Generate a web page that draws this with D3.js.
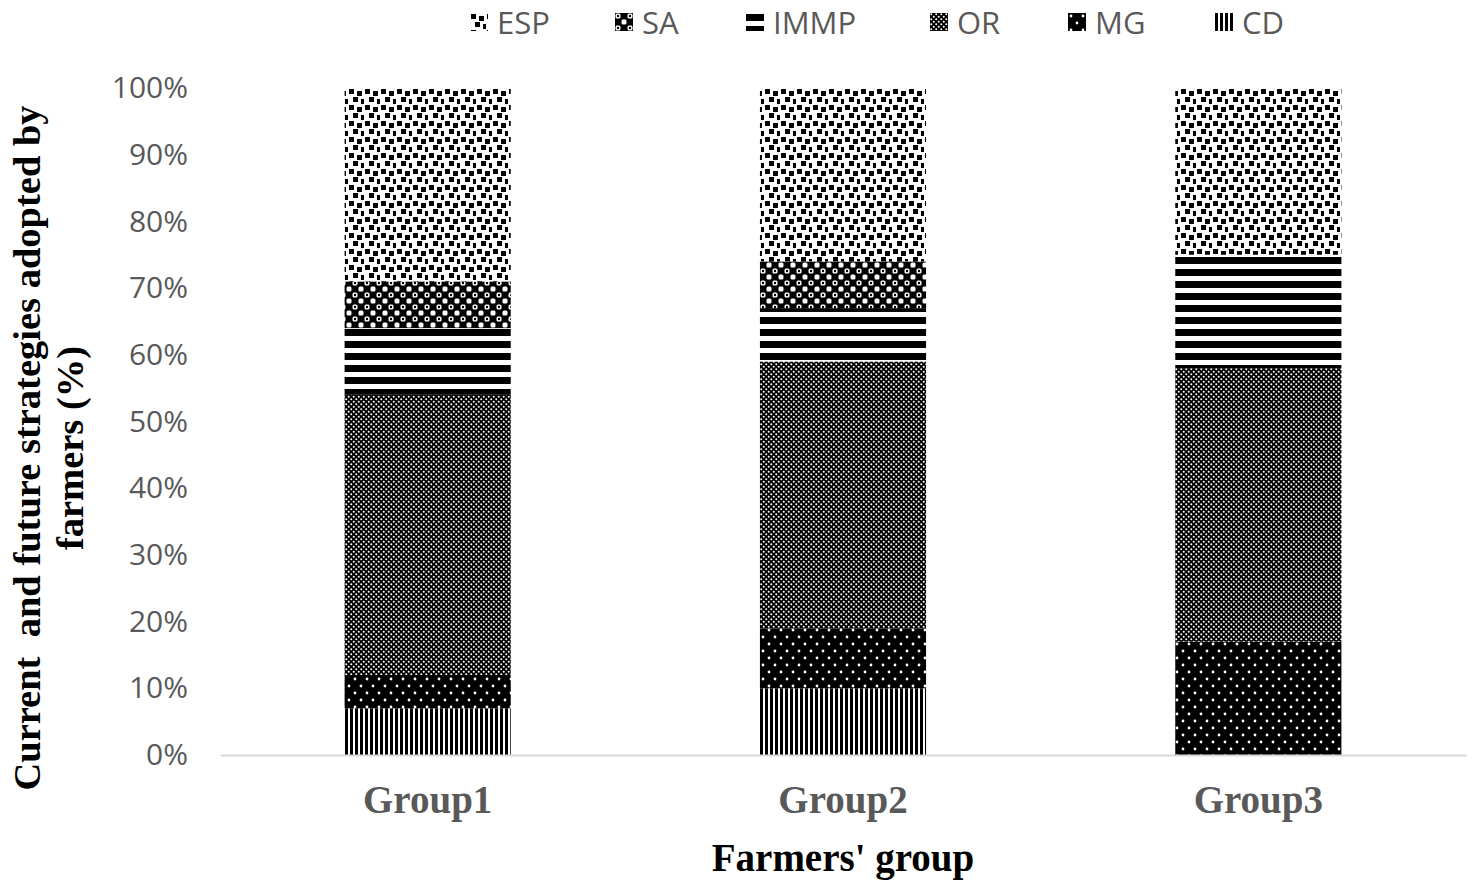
<!DOCTYPE html>
<html>
<head>
<meta charset="utf-8">
<script src="https://cdn.jsdelivr.net/npm/d3@7"></script>
<style>
    body { margin: 0; background: #fff; }
    svg { display: block; }
</style>
</head>
<body>
<svg id="chart" width="1477" height="892"></svg>
<script>
// Values (percent of farmers in each group)
const groups = ["Group1", "Group2", "Group3"];
const seriesNames = ["CD", "MG", "OR", "IMMP", "SA", "ESP"];   // bottom -> top
const legendOrder = ["ESP", "SA", "IMMP", "OR", "MG", "CD"];
const cdValues = [7, 10, 0];
const mgValues = [5, 9, 17];
const orValues = [42, 40, 41];
const immpValues = [10, 8, 17];
const saValues = [7, 7, 0];
const espValues = [29, 26, 25];
const yTicks = [0, 0.1, 0.2, 0.3, 0.4, 0.5, 0.6, 0.7, 0.8, 0.9, 1];

const seriesValues = {
    CD: cdValues, MG: mgValues, OR: orValues,
    IMMP: immpValues, SA: saValues, ESP: espValues
};

const rows = groups.map((g, i) => {
    let row = { group: g };
    seriesNames.forEach(s => row[s] = seriesValues[s][i] / 100);
    return row;
});

const svg = d3.select("#chart");
const margin = { top: 88, left: 220, right: 11, bottom: 137 };
const width = 1477 - margin.left - margin.right;
const height = 892 - margin.top - margin.bottom;

const grey = "#595959";
const serif = "'Liberation Serif', 'Times New Roman', serif";
const sans = "'Open Sans', 'Noto Sans', sans-serif";

// Hatch patterns, roughly like Excel's pattern fills
const defs = svg.append("defs");

function makePattern(id, w, h, draw) {
    let p = defs.append("pattern")
        .attr("id", id)
        .attr("patternUnits", "userSpaceOnUse")
        .attr("width", w)
        .attr("height", h);
    draw(p);
}

makePattern("pat-ESP", 16, 16, p => {
    p.append("rect").attr("width", 16).attr("height", 16).attr("fill", "white");
    [[1, 1], [9, 3], [5, 9], [13, 11]].forEach(d => {
        p.append("rect").attr("x", d[0]).attr("y", d[1])
            .attr("width", 5).attr("height", 5).attr("fill", "black");
    });
});

makePattern("pat-SA", 12, 12, p => {
    p.append("rect").attr("width", 12).attr("height", 12).attr("fill", "black");
    p.append("rect").attr("x", 0.5).attr("y", 0.5).attr("width", 5).attr("height", 5)
        .attr("rx", 1.5).attr("fill", "white");
    p.append("rect").attr("x", 6.5).attr("y", 6.5).attr("width", 5).attr("height", 5)
        .attr("rx", 1.5).attr("fill", "white");
    p.append("circle").attr("cx", 3).attr("cy", 3).attr("r", 1.2).attr("fill", "black");
});

makePattern("pat-IMMP", 12, 12, p => {
    p.append("rect").attr("width", 12).attr("height", 12).attr("fill", "white");
    p.append("rect").attr("y", 1).attr("width", 12).attr("height", 7).attr("fill", "black");
});

makePattern("pat-OR", 5, 5, p => {
    p.append("rect").attr("width", 5).attr("height", 5).attr("fill", "black");
    p.append("circle").attr("cx", 1.25).attr("cy", 1.25).attr("r", 1).attr("fill", "white");
    p.append("circle").attr("cx", 3.75).attr("cy", 3.75).attr("r", 1).attr("fill", "white");
});

makePattern("pat-MG", 12, 14, p => {
    p.append("rect").attr("width", 12).attr("height", 14).attr("fill", "black");
    p.append("circle").attr("cx", 3).attr("cy", 3).attr("r", 1.4).attr("fill", "white");
    p.append("circle").attr("cx", 9).attr("cy", 10).attr("r", 1.4).attr("fill", "white");
});

makePattern("pat-CD", 5, 5, p => {
    p.append("rect").attr("width", 5).attr("height", 5).attr("fill", "white");
    p.append("rect").attr("width", 3).attr("height", 5).attr("fill", "black");
});

const g = svg.append("g")
    .attr("transform", `translate(${margin.left},${margin.top})`);

const x = d3.scaleBand()
    .domain(groups)
    .range([0, width])
    .paddingInner(0.6)
    .paddingOuter(0.3);

const y = d3.scaleLinear()
    .domain([0, 1])
    .range([height, 0]);

const stacked = d3.stack().keys(seriesNames)(rows);

// Bars
g.selectAll(".layer")
    .data(stacked)
    .enter()
    .append("g")
    .attr("class", "layer")
    .attr("fill", d => `url(#pat-${d.key})`)
    .selectAll("rect")
    .data(d => d)
    .enter()
    .append("rect")
    .attr("x", d => x(d.data.group))
    .attr("width", x.bandwidth())
    .attr("y", d => y(d[1]))
    .attr("height", d => y(d[0]) - y(d[1]));

// Y axis (labels only, no line)
const yAxis = g.append("g")
    .call(d3.axisLeft(y).tickValues(yTicks).tickFormat(d3.format(".0%")).tickSize(0).tickPadding(32));
yAxis.select(".domain").remove();
yAxis.selectAll("text")
    .attr("fill", grey)
    .style("font-family", sans)
    .style("font-size", "30px");

// X axis baseline and labels
const xAxis = g.append("g")
    .attr("transform", `translate(0,${height})`)
    .call(d3.axisBottom(x).tickSize(0).tickPadding(30));
xAxis.select(".domain")
    .attr("stroke", "#d9d9d9")
    .attr("stroke-width", 2);
xAxis.selectAll("text")
    .attr("fill", grey)
    .style("font-family", serif)
    .style("font-weight", "bold")
    .style("font-size", "39px");

// Axis titles
svg.append("text")
    .attr("x", margin.left + width / 2)
    .attr("y", 871)
    .attr("text-anchor", "middle")
    .style("font-family", serif)
    .style("font-weight", "bold")
    .style("font-size", "39px")
    .text("Farmers' group");

const yTitle = svg.append("text")
    .attr("transform", `translate(0,448) rotate(-90)`)
    .attr("text-anchor", "middle")
    .style("font-family", serif)
    .style("font-weight", "bold")
    .style("font-size", "38.5px")
    .style("white-space", "pre");
yTitle.append("tspan").attr("x", 0).attr("y", 40).text("Current  and future strategies adopted by");
yTitle.append("tspan").attr("x", 0).attr("y", 83).text("farmers (%)");

// Legend
const legendX = [470, 615, 746, 930, 1068, 1215];
const legend = svg.selectAll(".legend-item")
    .data(legendOrder)
    .enter()
    .append("g")
    .attr("class", "legend-item")
    .attr("transform", (d, i) => `translate(${legendX[i]},13)`);

legend.append("rect")
    .attr("width", 18)
    .attr("height", 18)
    .attr("fill", d => `url(#pat-${d})`);

legend.append("text")
    .attr("x", 27)
    .attr("y", 9)
    .attr("dominant-baseline", "central")
    .attr("fill", grey)
    .style("font-family", sans)
    .style("font-size", "31px")
    .text(d => d);
</script>
</body>
</html>
